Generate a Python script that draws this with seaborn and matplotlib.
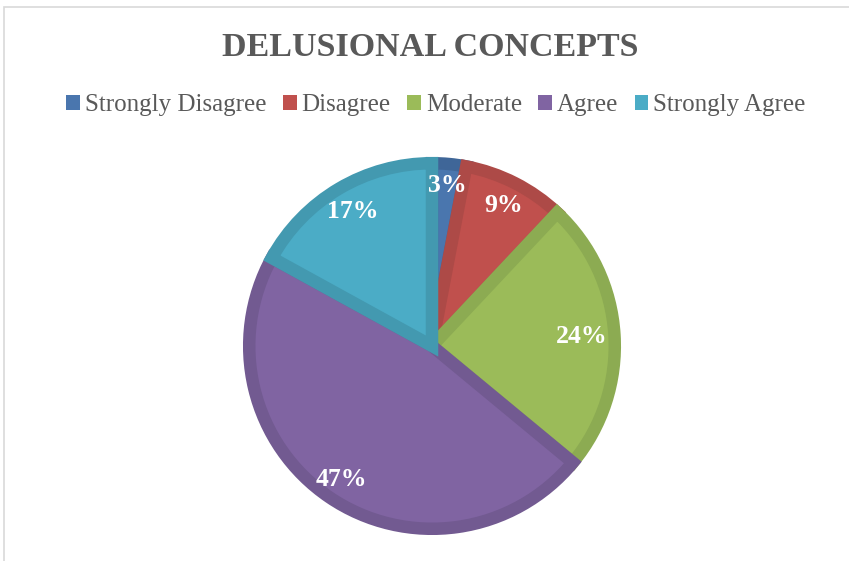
import matplotlib
matplotlib.use("Agg")
import matplotlib.pyplot as plt
from matplotlib.patches import Rectangle, Patch
import seaborn as sns
import numpy as np

categories = ["Strongly Disagree", "Disagree", "Moderate", "Agree", "Strongly Agree"]
values = [3, 9, 24, 47, 17]
labels = ["3%", "9%", "24%", "47%", "17%"]

fill_colors = ["#4A76AE", "#C0504D", "#9BBB59", "#8064A2", "#4BACC6"]
edge_colors = ["#3F6698", "#AD4A47", "#8CAB52", "#725A91", "#4399B0"]

sns.set_theme(style="white")
plt.rcParams['font.family'] = ['Liberation Serif', 'DejaVu Serif']

W, H = 849, 561
fig = plt.figure(figsize=(W / 100, H / 100), dpi=100)

cx, cy, r = 432, 346, 190
lim = 1.05
half = r * lim
ax = fig.add_axes([(cx - half) / W, (H - cy - half) / H, 2 * half / W, 2 * half / H])

wedges, _ = ax.pie(values, colors=fill_colors, startangle=90, counterclock=False,
                   radius=0.962, wedgeprops=dict(linewidth=0))
for w, ec in zip(wedges, edge_colors):
    w.set_edgecolor(ec)
    w.set_linewidth(9)
    w.set_clip_path(w)

dists = [0.85, 0.83, 0.79, 0.85, 0.82]
start = 90.0
for v, lab, d in zip(values, labels, dists):
    mid = start - v * 360 / 100 / 2
    start -= v * 360 / 100
    ang = np.deg2rad(mid)
    ax.text(d * np.cos(ang), d * np.sin(ang), lab, ha="center", va="center",
            color="white", fontsize=18.5, fontweight="bold")

ax.set_xlim(-lim, lim)
ax.set_ylim(-lim, lim)
ax.set_aspect("equal")
ax.axis("off")

fig.text(430 / W, 1 - 47 / H, "DELUSIONAL CONCEPTS", ha="center", va="center",
         fontsize=24.5, fontweight="bold", color="#595959")

handles = [Patch(facecolor=c, edgecolor="none") for c in fill_colors]
fig.legend(handles, categories, loc="center", bbox_to_anchor=(436 / W, 1 - 105 / H),
           ncol=5, frameon=False, fontsize=18, handlelength=0.55, handleheight=0.55,
           handletextpad=0.2, columnspacing=0.65, labelcolor="#595959")

fig.patches.append(Rectangle((3.5 / W, -0.1), 1.2, (H - 6.5) / H + 0.1,
                             transform=fig.transFigure, fill=False,
                             edgecolor="#D9D9D9", linewidth=1.2))

fig.savefig("out.png", dpi=100, facecolor="white")
